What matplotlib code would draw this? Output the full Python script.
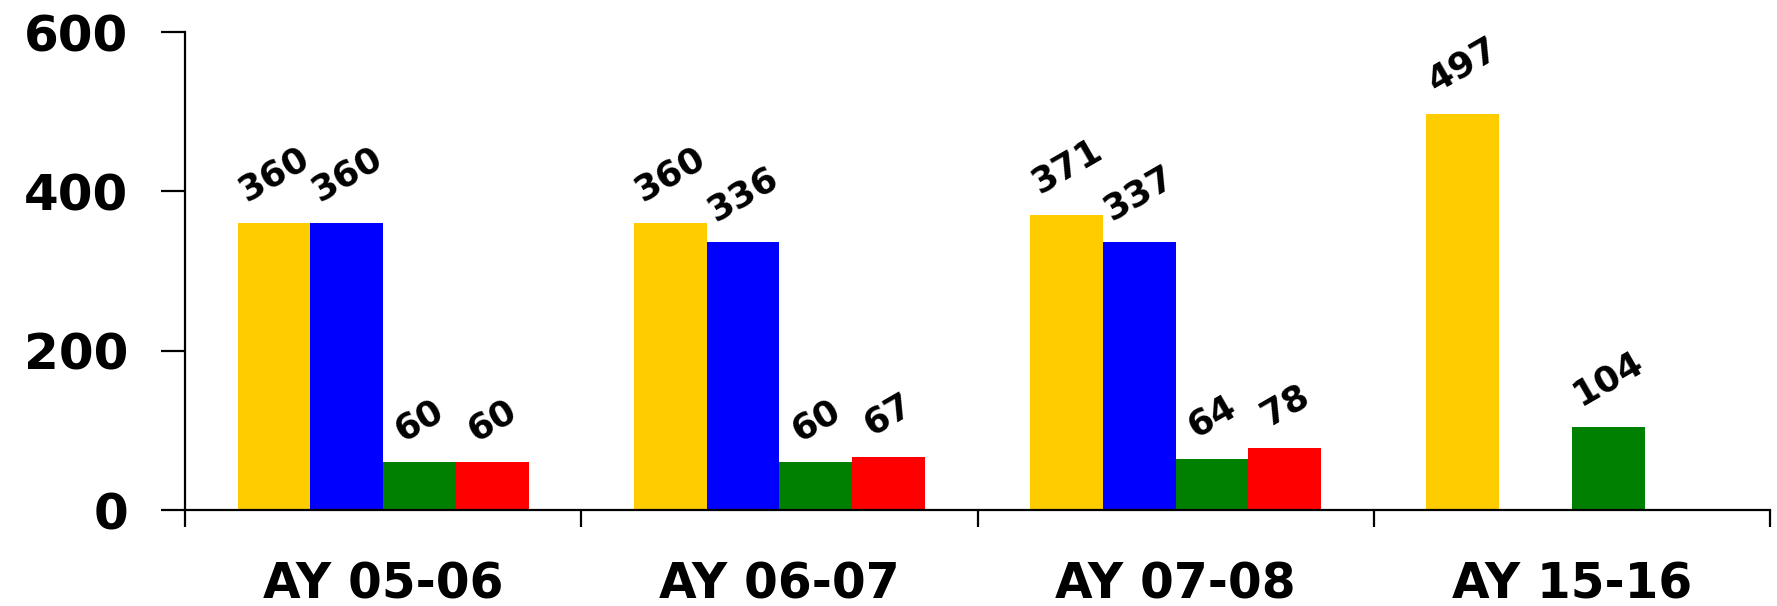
import numpy as np
import matplotlib
matplotlib.use("Agg")
import matplotlib.pyplot as plt

# data
groups = ["AY 05-06", "AY 06-07", "AY 07-08", "AY 15-16"]
series_a = [360, 360, 371, 497]
series_b = [360, 336, 337, np.nan]
series_c = [60, 60, 64, 104]
series_d = [60, 67, 78, np.nan]
colors = ["#FFCC00", "#0000FF", "#008000", "#FF0000"]

plt.rcParams['font.family'] = ['DejaVu Sans']
plt.rcParams['font.weight'] = 'bold'

fig = plt.figure(figsize=(17.77, 6.06), dpi=100)
ax = fig.add_axes([0.1041, 0.158, 0.892, 0.789])

w = 0.1836
centers = np.arange(len(groups)) + 0.5
all_series = [series_a, series_b, series_c, series_d]

for j, vals in enumerate(all_series):
    xs = centers + (j - 1.5) * w
    ax.bar(xs, vals, width=w, color=colors[j], linewidth=0)
    for x, v in zip(xs, vals):
        if np.isnan(v):
            continue
        ax.annotate(f"{v:.0f}", (x, v), xytext=(0, 11), textcoords="offset points",
                    ha="center", va="bottom", rotation=30,
                    fontsize=26, fontweight="bold")

ax.set_xlim(0, 4)
ax.set_ylim(0, 600)
ax.set_yticks([0, 200, 400, 600])
ax.set_xticks([0, 1, 2, 3, 4])
ax.set_xticklabels([])
ax.set_xticks(centers, minor=True)
ax.set_xticklabels(groups, minor=True)

ax.spines['top'].set_visible(False)
ax.spines['right'].set_visible(False)
ax.spines['left'].set_linewidth(1.6)
ax.spines['bottom'].set_linewidth(1.6)

ax.tick_params(axis='y', direction='out', length=17, width=1.6, pad=24, labelsize=36)
ax.tick_params(axis='x', which='major', direction='out', length=12, width=1.6)
ax.tick_params(axis='x', which='minor', length=0, pad=36, labelsize=35)
for lab in ax.get_yticklabels() + ax.get_xticklabels(minor=True):
    lab.set_fontweight('bold')

fig.savefig("out.png", dpi=100)
